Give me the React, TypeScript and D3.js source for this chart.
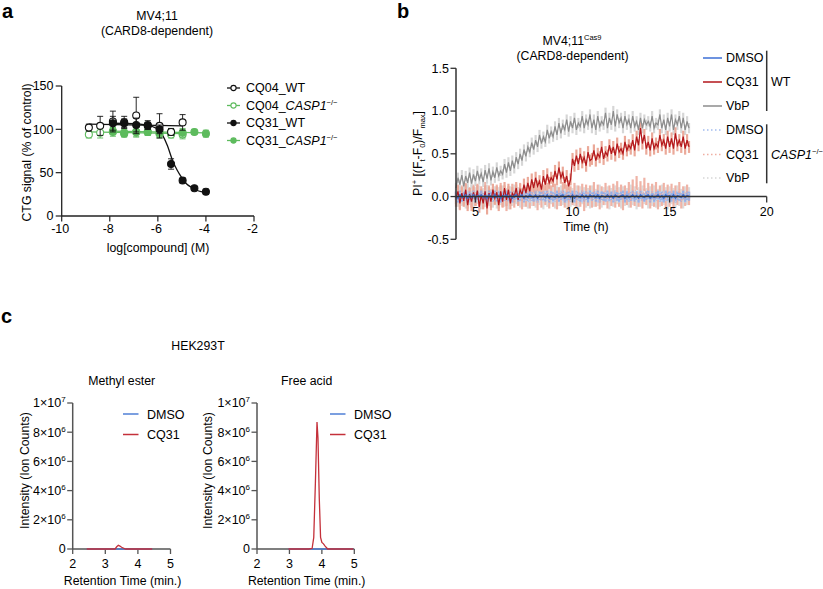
import React from 'react';
import * as d3 from 'd3';

const FONT = "'Liberation Sans', Arial, Helvetica, sans-serif";

// ---------------- Panel a data ----------------
const doseCQ04 = [-8.87, -8.4, -7.87, -7.4, -6.9, -6.42, -5.93, -5.45, -4.97];
const doseCQ31 = [-7.87, -7.4, -6.9, -6.42, -5.93, -5.45, -4.97, -4.48, -4.0];
const cq04WT = [102, 104, 109, 108, 116, 105, 104, 97, 108];
const cq04WTErr = [4, 11, 12, 7, 21, 5, 14, 4, 9];
const cq04KO = [94, 96, 97, 96, 97, 97, 95, 94, 94];
const cq04KOErr = [4, 6, 5, 4, 6, 4, 5, 4, 5];
const cq31WT = [107, 107, 105, 104, 100, 60, 41, 32, 28];
const cq31WTErr = [8, 5, 8, 4, 5, 6, 3, 2, 3];
const cq31KO = [98, 95, 97, 97, 96, 97, 96, 97, 95];
const cq31KOErr = [4, 4, 5, 4, 5, 4, 5, 3, 4];
const fitCQ04WTx = [-8.87, -4.97];
const fitCQ04WTy = [106, 104];
const fitCQ04KOx = [-8.87, -4.97];
const fitCQ04KOy = [97, 95];
const fitCQ31KOx = [-7.87, -4.0];
const fitCQ31KOy = [98, 96];
const fitCQ31WTx = [-7.87, -7.0, -6.5, -6.2, -6.0, -5.8, -5.6, -5.4, -5.2, -5.0, -4.8, -4.6, -4.4, -4.2, -4.0];
const fitCQ31WTy = [107, 106.5, 105, 103, 100, 93, 81, 65, 53, 44, 37, 33, 30, 28, 27];
const aXTicks = [-10, -8, -6, -4, -2];
const aYTicks = [0, 50, 100, 150];

// ---------------- Panel b data ----------------
const TIME_START = 4;
const TIME_STEP = 0.1;
const wtVbP = [
  0.10, 0.22, 0.14, 0.25, 0.12, 0.24, 0.16, 0.28, 0.15, 0.26,
  0.18, 0.30, 0.20, 0.27, 0.17, 0.31, 0.21, 0.33, 0.19, 0.29,
  0.22, 0.34, 0.24, 0.30, 0.26, 0.38, 0.28, 0.40, 0.30, 0.42,
  0.33, 0.46, 0.38, 0.50, 0.42, 0.55, 0.47, 0.58, 0.52, 0.63,
  0.55, 0.66, 0.58, 0.72, 0.62, 0.70, 0.64, 0.78, 0.68, 0.76,
  0.70, 0.82, 0.72, 0.86, 0.74, 0.84, 0.78, 0.90, 0.76, 0.88,
  0.80, 0.92, 0.78, 0.86, 0.82, 0.94, 0.80, 0.90, 0.84, 0.96,
  0.80, 0.90, 0.78, 0.94, 0.82, 0.88, 0.84, 0.98, 0.80, 0.92,
  0.84, 1.00, 0.82, 0.96, 0.86, 0.92, 0.80, 0.94, 0.84, 0.90,
  0.80, 0.94, 0.82, 0.88, 0.78, 0.92, 0.80, 0.90, 0.84, 0.88,
  0.82, 0.94, 0.80, 0.86, 0.84, 0.96, 0.80, 0.90, 0.78, 0.92,
  0.82, 0.96, 0.78, 0.90, 0.84, 0.94, 0.80, 0.92, 0.78, 0.88, 0.80,
];
const wtCQ31 = [
  -0.02, 0.06, -0.08, 0.04, -0.05, 0.08, -0.10, 0.03, -0.06, 0.05,
  -0.04, 0.07, -0.12, 0.02, -0.08, 0.06, -0.14, 0.04, -0.06, 0.08,
  -0.02, 0.05, -0.10, 0.06, -0.06, 0.10, -0.04, 0.08, -0.08, 0.04,
  0.00, 0.10, -0.04, 0.08, 0.02, 0.14, 0.04, 0.16, 0.06, 0.20,
  0.10, 0.22, 0.12, 0.18, 0.08, 0.24, 0.14, 0.26, 0.16, 0.22,
  0.18, 0.30, 0.20, 0.34, 0.22, 0.28, 0.16, 0.24, 0.12, 0.20,
  0.44, 0.36, 0.48, 0.38, 0.50, 0.40, 0.46, 0.36, 0.52, 0.42,
  0.44, 0.54, 0.42, 0.50, 0.46, 0.58, 0.44, 0.52, 0.48, 0.60,
  0.50, 0.58, 0.48, 0.62, 0.52, 0.56, 0.50, 0.64, 0.54, 0.60,
  0.56, 0.66, 0.54, 0.70, 0.60, 0.80, 0.62, 0.72, 0.56, 0.64,
  0.54, 0.68, 0.56, 0.62, 0.58, 0.72, 0.60, 0.66, 0.56, 0.70,
  0.58, 0.68, 0.56, 0.74, 0.60, 0.66, 0.58, 0.70, 0.56, 0.66, 0.58,
];
const wtDMSO = [
  0.01, -0.02, 0.02, -0.01, 0.00, 0.02, -0.02, 0.01, -0.01, 0.02,
  -0.02, 0.01, 0.00, 0.02, -0.01, 0.01, -0.02, 0.02, 0.00, -0.01,
  0.02, -0.01, 0.01, -0.02, 0.01, 0.00, 0.02, -0.01, 0.01, -0.02,
  0.01, 0.02, -0.01, 0.00, 0.02, -0.02, 0.01, -0.01, 0.02, 0.00,
  -0.01, 0.02, -0.02, 0.01, 0.00, 0.01, -0.01, 0.02, -0.02, 0.01,
  0.00, -0.01, 0.02, -0.01, 0.01, 0.02, -0.02, 0.00, 0.01, -0.01,
  0.02, -0.02, 0.01, 0.00, -0.01, 0.02, -0.01, 0.01, -0.02, 0.02,
  0.00, 0.01, -0.01, 0.02, -0.02, 0.01, 0.00, -0.01, 0.02, -0.01,
  0.01, -0.02, 0.02, 0.00, -0.01, 0.01, 0.02, -0.02, 0.01, -0.01,
  0.00, 0.02, -0.01, 0.01, -0.02, 0.02, 0.00, -0.01, 0.01, 0.02,
  -0.02, 0.01, -0.01, 0.00, 0.02, -0.01, 0.01, -0.02, 0.02, 0.00,
  0.01, -0.01, 0.02, -0.02, 0.01, 0.00, -0.01, 0.02, -0.01, 0.01,
  0.00,
];
const koCQ31 = [
  -0.04, 0.06, -0.08, 0.05, -0.02, 0.08, -0.06, 0.03, -0.09, 0.06,
  -0.03, 0.07, -0.07, 0.04, -0.05, 0.09, -0.04, 0.05, -0.08, 0.03,
  -0.02, 0.06, -0.06, 0.08, -0.04, 0.05, -0.09, 0.04, -0.03, 0.07,
  -0.05, 0.06, -0.02, 0.08, -0.07, 0.04, -0.04, 0.09, -0.06, 0.05,
  -0.03, 0.07, -0.08, 0.04, -0.05, 0.06, -0.02, 0.08, -0.06, 0.05,
  -0.04, 0.07, -0.07, 0.03, -0.03, 0.09, -0.05, 0.06, -0.08, 0.04,
  -0.02, 0.08, -0.06, 0.05, -0.04, 0.07, -0.09, 0.06, -0.03, 0.05,
  -0.05, 0.09, -0.04, 0.06, -0.07, 0.04, -0.02, 0.08, -0.06, 0.05,
  -0.03, 0.07, -0.05, 0.10, -0.04, 0.06, -0.08, 0.05, -0.02, 0.09,
  -0.05, 0.12, -0.03, 0.16, -0.04, 0.10, -0.06, 0.14, -0.02, 0.08,
  -0.06, 0.07, -0.04, 0.09, -0.07, 0.05, -0.03, 0.08, -0.05, 0.06,
  -0.04, 0.07, -0.08, 0.05, -0.02, 0.09, -0.06, 0.04, -0.03, 0.06,
  -0.02,
];
const koDMSO = [
  0.02, -0.03, 0.01, -0.02, 0.03, -0.01, 0.02, -0.03, 0.01, 0.02,
  -0.02, 0.03, -0.01, 0.01, -0.03, 0.02, 0.00, -0.02, 0.03, -0.01,
  0.01, -0.02, 0.03, -0.03, 0.02, 0.01, -0.02, 0.02, -0.01, 0.03,
  -0.03, 0.01, 0.02, -0.02, 0.00, 0.03, -0.01, 0.02, -0.03, 0.01,
  0.02, -0.01, -0.03, 0.02, 0.01, -0.02, 0.03, -0.01, 0.00, 0.02,
  -0.03, 0.02, 0.01, -0.02, 0.03, -0.01, 0.02, -0.03, 0.01, 0.00,
  0.02, -0.02, 0.03, -0.01, 0.01, -0.03, 0.02, 0.01, -0.02, 0.03,
  -0.01, 0.00, 0.02, -0.03, 0.01, 0.02, -0.01, 0.03, -0.02, 0.01,
  0.00, 0.03, -0.02, 0.01, -0.03, 0.02, 0.01, -0.01, 0.03, -0.02,
  0.02, -0.01, 0.00, 0.03, -0.03, 0.01, 0.02, -0.02, 0.01, 0.03,
  -0.01, 0.02, -0.03, 0.01, 0.00, 0.02, -0.02, 0.03, -0.01, 0.01,
  -0.03, 0.02, 0.01, -0.02, 0.03, 0.00, -0.01, 0.02, -0.03, 0.01,
  0.02,
];
const koVbP = [
  0.03, -0.05, 0.06, -0.04, 0.02, -0.07, 0.05, -0.03, 0.07, -0.06,
  0.04, -0.02, 0.06, -0.08, 0.03, -0.05, 0.07, -0.04, 0.02, -0.06,
  0.05, -0.07, 0.04, -0.03, 0.06, -0.05, 0.03, -0.08, 0.05, -0.04,
  0.07, -0.02, 0.04, -0.06, 0.03, -0.05, 0.06, -0.07, 0.02, -0.04,
  0.05, -0.06, 0.07, -0.03, 0.04, -0.08, 0.03, -0.05, 0.06, -0.02,
  0.04, -0.07, 0.05, -0.04, 0.06, -0.03, 0.02, -0.06, 0.07, -0.05,
  0.03, -0.04, 0.06, -0.08, 0.05, -0.02, 0.04, -0.06, 0.03, -0.07,
  0.06, -0.05, 0.02, -0.04, 0.07, -0.06, 0.04, -0.03, 0.05, -0.08,
  0.03, -0.05, 0.06, -0.02, 0.04, -0.07, 0.05, -0.04, 0.03, -0.06,
  0.07, -0.03, 0.05, -0.08, 0.04, -0.05, 0.06, -0.02, 0.03, -0.07,
  0.05, -0.04, 0.06, -0.06, 0.02, -0.05, 0.07, -0.03, 0.04, -0.08,
  0.05, -0.02, 0.03, -0.06, 0.06, -0.04, 0.02, -0.07, 0.05, -0.03,
  0.04,
];
const errWtVbP = 0.06;
const errWtCQ31 = 0.07;
const errWtDMSO = 0.05;
const errKoVbP = 0.07;
const errKoCQ31 = 0.08;
const errKoDMSO = 0.04;
const bXTicks = [5, 10, 15, 20];
const bYTicks = [-0.5, 0.0, 0.5, 1.0, 1.5];
const bLegend = ['DMSO', 'CQ31', 'VbP'];

// ---------------- Panel c data ----------------
const cYTicks = [0, 2e6, 4e6, 6e6, 8e6, 1e7];
const cXTicks = [2, 3, 4, 5];
const meDMSOx = [2.43, 4.44];
const meDMSOy = [0, 0];
const meCQ31x = [2.43, 3.3, 3.35, 3.4, 3.45, 3.5, 3.55, 3.62, 4.44];
const meCQ31y = [0, 0, 0.15e6, 0.25e6, 0.2e6, 0.12e6, 0.07e6, 0, 0];
const faDMSOx = [2.97, 4.97];
const faDMSOy = [0, 0];
const faCQ31x = [2.97, 3.6, 3.7, 3.75, 3.8, 3.85, 3.88, 3.92, 3.96, 4.0, 4.05, 4.1, 4.18, 4.97];
const faCQ31y = [0, 0, 0.05e6, 0.8e6, 4.5e6, 8.7e6, 7.6e6, 3.5e6, 0.8e6, 0.45e6, 0.35e6, 0.2e6, 0, 0];

const BLACK = '#111';
const GREEN = '#5dbb5d';
const FS = 12.5;
const FT = 12.3;

function CircleMark({ cx, cy, filled, color, r = 3.5 }: any) {
  return <circle cx={cx} cy={cy} r={r} fill={filled ? color : '#fff'} stroke={color} strokeWidth={1.1} />;
}

export default function App() {
  const xA = d3.scaleLinear().domain([-10, -2]).range([61.7, 254]);
  const yA = d3.scaleLinear().domain([0, 150]).range([216, 86]);
  const xB = d3.scaleLinear().domain([4, 20]).range([456, 766.7]);
  const yB = d3.scaleLinear().domain([-0.5, 1.5]).range([239.3, 68.3]);
  const yC = d3.scaleLinear().domain([0, 1e7]).range([549, 403]);
  const xCL = d3.scaleLinear().domain([2, 5]).range([72.7, 170.5]);
  const xCR = d3.scaleLinear().domain([2, 5]).range([257, 354.3]);

  const lineA = d3.line<[number, number]>().x((d) => xA(d[0])).y((d) => yA(d[1]));
  const fitCurve = d3
    .line<[number, number]>()
    .x((d) => xA(d[0]))
    .y((d) => yA(d[1]))
    .curve(d3.curveMonotoneX);
  const zip = (xs: number[], ys: number[]) => xs.map((x, i) => [x, ys[i]] as [number, number]);

  const times = wtVbP.map((_, i) => TIME_START + i * TIME_STEP);
  const lineB = d3.line<number>().x((_, i) => xB(times[i])).y((d) => yB(d));

  const errBars = (vals: number[], err: number, color: string, w = 2.2, op = 1) =>
    vals.map((v, i) => (
      <line key={i} x1={xB(times[i])} x2={xB(times[i])} y1={yB(v - err)} y2={yB(v + err)} stroke={color} strokeWidth={w} opacity={op} />
    ));

  const aSeries = [
    { x: doseCQ04, y: cq04KO, e: cq04KOErr, color: GREEN, filled: false },
    { x: doseCQ31, y: cq31KO, e: cq31KOErr, color: GREEN, filled: true },
    { x: doseCQ04, y: cq04WT, e: cq04WTErr, color: BLACK, filled: false },
    { x: doseCQ31, y: cq31WT, e: cq31WTErr, color: BLACK, filled: true },
  ];

  const aLegendRows = [
    { label: 'CQ04_', ko: false, color: BLACK, filled: false, y: 88 },
    { label: 'CQ04_', ko: true, color: GREEN, filled: false, y: 105.5 },
    { label: 'CQ31_', ko: false, color: BLACK, filled: true, y: 123 },
    { label: 'CQ31_', ko: true, color: GREEN, filled: true, y: 140.5 },
  ];

  const cLine = (xs: (v: number) => number) =>
    d3.line<[number, number]>().x((d) => xs(d[0])).y((d) => yC(d[1]));

  const expLabel = (v: number) => {
    if (v === 0) return null;
    const exp = Math.floor(Math.log10(v) + 1e-9);
    const mant = Math.round(v / Math.pow(10, exp));
    return { mant, exp };
  };

  const cPanel = (xs: any, axisX: number, title: string, titleX: number, dx: number[], dy: number[], cx: number[], cy: number[], legX: number, yTitleX: number) => (
    <g>
      <text x={titleX} y={385} fontSize={FT} textAnchor="middle">{title}</text>
      <line x1={axisX} x2={axisX} y1={yC(1e7)} y2={yC(0)} stroke="#555" strokeWidth={1.5} />
      <line x1={axisX} x2={xs(5)} y1={yC(0)} y2={yC(0)} stroke="#555" strokeWidth={1.5} />
      {cYTicks.map((t) => {
        const lab = expLabel(t);
        return (
          <g key={t}>
            <line x1={axisX - 5.5} x2={axisX} y1={yC(t)} y2={yC(t)} stroke="#555" strokeWidth={1.3} />
            <text x={axisX - 7} y={yC(t) + 4.3} fontSize={FS} textAnchor="end">
              {lab ? (
                <>
                  {lab.mant}×10<tspan fontSize={8} dy={-5}>{lab.exp}</tspan>
                </>
              ) : (
                '0'
              )}
            </text>
          </g>
        );
      })}
      {cXTicks.map((t) => (
        <g key={t}>
          <line x1={xs(t)} x2={xs(t)} y1={yC(0)} y2={yC(0) + 5} stroke="#555" strokeWidth={1.3} />
          <text x={xs(t)} y={568} fontSize={FS} textAnchor="middle">{t}</text>
        </g>
      ))}
      <text x={(xs(2) + xs(5)) / 2 + 1} y={584.5} fontSize={FT} textAnchor="middle">Retention Time (min.)</text>
      <text transform={`translate(${yTitleX},470.5) rotate(-90)`} fontSize={FT} textAnchor="middle">Intensity (Ion Counts)</text>
      <path d={cLine(xs)(zip(dx, dy)) || ''} fill="none" stroke="#4f7fd6" strokeWidth={1.3} />
      <path d={cLine(xs)(zip(cx, cy)) || ''} fill="none" stroke="#c4303a" strokeWidth={1.3} />
      <line x1={legX} x2={legX + 15.5} y1={414} y2={414} stroke="#4f7fd6" strokeWidth={1.5} />
      <text x={legX + 24} y={418.5} fontSize={FS}>DMSO</text>
      <line x1={legX} x2={legX + 15.5} y1={434.5} y2={434.5} stroke="#c4303a" strokeWidth={1.5} />
      <text x={legX + 24} y={439} fontSize={FS}>CQ31</text>
    </g>
  );

  const bLegendY = [58, 82, 106, 130, 154.5, 178];
  const bWtColors = ['#3d6fd6', '#b3161b', '#8c8c8c'];
  const bKoColors = ['#a3bcee', '#f0aea2', '#d6d6d6'];

  return (
    <svg
      width={823}
      height={589}
      style={{ position: 'absolute', left: 0, top: 0, background: '#fff' }}
      fontFamily={FONT}
      fill="#000"
    >
      <rect width={823} height={589} fill="#fff" />

      {/* ================= Panel a ================= */}
      <text x={2} y={18} fontSize={20} fontWeight="bold">a</text>
      <text x={157} y={20} fontSize={FT} textAnchor="middle">MV4;11</text>
      <text x={157} y={35} fontSize={FT} textAnchor="middle">(CARD8-dependent)</text>

      <path d={lineA(zip(fitCQ04KOx, fitCQ04KOy)) || ''} fill="none" stroke={GREEN} strokeWidth={1.3} />
      <path d={lineA(zip(fitCQ31KOx, fitCQ31KOy)) || ''} fill="none" stroke={GREEN} strokeWidth={1.3} />
      <path d={lineA(zip(fitCQ04WTx, fitCQ04WTy)) || ''} fill="none" stroke={BLACK} strokeWidth={1.1} />
      <path d={fitCurve(zip(fitCQ31WTx, fitCQ31WTy)) || ''} fill="none" stroke={BLACK} strokeWidth={1.3} />

      {aSeries.map((s, si) => (
        <g key={si}>
          {s.x.map((x, i) => {
            const cx = xA(x);
            const top = yA(s.y[i] + s.e[i]);
            const bot = yA(s.y[i] - s.e[i]);
            return (
              <g key={i}>
                <line x1={cx} x2={cx} y1={top} y2={bot} stroke={s.color} strokeWidth={0.9} />
                <line x1={cx - 3} x2={cx + 3} y1={top} y2={top} stroke={s.color} strokeWidth={0.9} />
                <line x1={cx - 3} x2={cx + 3} y1={bot} y2={bot} stroke={s.color} strokeWidth={0.9} />
              </g>
            );
          })}
          {s.x.map((x, i) => (
            <CircleMark key={'c' + i} cx={xA(x)} cy={yA(s.y[i])} filled={s.filled} color={s.color} />
          ))}
        </g>
      ))}

      <line x1={xA(-10)} x2={xA(-10)} y1={yA(150)} y2={yA(0)} stroke="#222" strokeWidth={1.3} />
      <line x1={xA(-10)} x2={xA(-2)} y1={yA(0)} y2={yA(0)} stroke="#222" strokeWidth={1.3} />
      {aYTicks.map((t) => (
        <g key={t}>
          <line x1={xA(-10) - 6} x2={xA(-10)} y1={yA(t)} y2={yA(t)} stroke="#222" strokeWidth={1.2} />
          <text x={53.5} y={yA(t) + 4.4} fontSize={FS} textAnchor="end">{t}</text>
        </g>
      ))}
      {aXTicks.map((t) => (
        <g key={t}>
          <line x1={xA(t)} x2={xA(t)} y1={yA(0)} y2={yA(0) + 5.5} stroke="#222" strokeWidth={1.2} />
          <text x={xA(t) - 1.5} y={233} fontSize={FS} textAnchor="middle">{t}</text>
        </g>
      ))}
      <text x={158} y={251.5} fontSize={FT} textAnchor="middle">log[compound] (M)</text>
      <text transform="translate(30.5,152.5) rotate(-90)" fontSize={FT} textAnchor="middle">CTG signal (% of control)</text>

      {aLegendRows.map((r, i) => (
        <g key={i}>
          <line x1={227} x2={240} y1={r.y} y2={r.y} stroke={r.color} strokeWidth={1.3} />
          <CircleMark cx={233.5} cy={r.y} filled={r.filled} color={r.color} r={2.6} />
          <text x={246} y={r.y + 4.4} fontSize={FS}>
            {r.label}
            {r.ko ? (
              <>
                <tspan fontStyle="italic">CASP1</tspan>
                <tspan fontSize={7.5} dy={-5}>−/−</tspan>
              </>
            ) : (
              'WT'
            )}
          </text>
        </g>
      ))}

      {/* ================= Panel b ================= */}
      <text x={397} y={18} fontSize={20} fontWeight="bold">b</text>
      <text x={572} y={45} fontSize={FT} textAnchor="middle">
        MV4;11<tspan fontSize={7.5} dy={-5}>Cas9</tspan>
      </text>
      <text x={572.5} y={59.5} fontSize={FT} textAnchor="middle">(CARD8-dependent)</text>

      {errBars(koVbP, errKoVbP, '#dcdcdc')}
      {errBars(koCQ31, errKoCQ31, '#efb3a6')}
      {errBars(koDMSO, errKoDMSO, '#b9ccf1')}
      {errBars(wtVbP, errWtVbP, '#d6d6d6')}
      {errBars(wtCQ31, errWtCQ31, '#eba999')}
      {errBars(wtDMSO, errWtDMSO, '#86a8ea', 2.2, 0.75)}

      <path d={lineB(koVbP) || ''} fill="none" stroke={bKoColors[2]} strokeWidth={1} strokeDasharray="1.5,2" />
      <path d={lineB(koCQ31) || ''} fill="none" stroke={bKoColors[1]} strokeWidth={1} strokeDasharray="1.5,2" />
      <path d={lineB(koDMSO) || ''} fill="none" stroke={bKoColors[0]} strokeWidth={1} strokeDasharray="1.5,2" />
      <path d={lineB(wtVbP) || ''} fill="none" stroke={bWtColors[2]} strokeWidth={1.2} />
      <path d={lineB(wtCQ31) || ''} fill="none" stroke={bWtColors[1]} strokeWidth={1.2} />
      <path d={lineB(wtDMSO) || ''} fill="none" stroke={bWtColors[0]} strokeWidth={1.5} />

      <line x1={xB(4)} x2={xB(4)} y1={yB(1.5)} y2={yB(-0.5)} stroke="#333" strokeWidth={1.5} />
      <line x1={xB(4)} x2={xB(20)} y1={yB(0)} y2={yB(0)} stroke="#333" strokeWidth={1.5} />
      {bYTicks.map((t) => (
        <g key={t}>
          <line x1={xB(4) - 5.5} x2={xB(4)} y1={yB(t)} y2={yB(t)} stroke="#333" strokeWidth={1.3} />
          <text x={449} y={yB(t) + 4.4} fontSize={FS} textAnchor="end">{t.toFixed(1)}</text>
        </g>
      ))}
      {bXTicks.map((t) => (
        <g key={t}>
          <line x1={xB(t)} x2={xB(t)} y1={yB(0)} y2={yB(0) + 6} stroke="#333" strokeWidth={1.3} />
          <text x={xB(t)} y={216} fontSize={FS} textAnchor="middle">{t}</text>
        </g>
      ))}
      <text x={586} y={231} fontSize={FT} textAnchor="middle">Time (h)</text>
      <text transform="translate(421.5,153.5) rotate(-90)" fontSize={FT} textAnchor="middle">
        PI<tspan fontSize={7.5} dy={-5}>+</tspan>
        <tspan dy={5}> [(F</tspan>
        <tspan fontSize={7.5} dy={3}>t</tspan>
        <tspan dy={-3}>-F</tspan>
        <tspan fontSize={7.5} dy={3}>0</tspan>
        <tspan dy={-3}>)/F</tspan>
        <tspan fontSize={7.5} dy={3}>max</tspan>
        <tspan dy={-3}>]</tspan>
      </text>

      {bLegend.map((lab, i) => (
        <g key={'wt' + i}>
          <line x1={703} x2={722} y1={bLegendY[i]} y2={bLegendY[i]} stroke={bWtColors[i]} strokeWidth={1.5} />
          <text x={726} y={bLegendY[i] + 4.4} fontSize={FS}>{lab}</text>
        </g>
      ))}
      {bLegend.map((lab, i) => (
        <g key={'ko' + i}>
          <line x1={703} x2={722} y1={bLegendY[i + 3]} y2={bLegendY[i + 3]} stroke={bKoColors[i]} strokeWidth={1.3} strokeDasharray="1.5,2.5" />
          <text x={726} y={bLegendY[i + 3] + 4.4} fontSize={FS}>{lab}</text>
        </g>
      ))}
      <line x1={766.7} x2={766.7} y1={50.7} y2={111} stroke="#333" strokeWidth={1.5} />
      <line x1={766.7} x2={766.7} y1={124.3} y2={183.3} stroke="#333" strokeWidth={1.5} />
      <text x={771} y={86.2} fontSize={FS}>WT</text>
      <text x={771} y={158.9} fontSize={FS}>
        <tspan fontStyle="italic">CASP1</tspan>
        <tspan fontSize={7.5} dy={-5}>−/−</tspan>
      </text>

      {/* ================= Panel c ================= */}
      <text x={1} y={323} fontSize={20} fontWeight="bold">c</text>
      <text x={198} y={349.5} fontSize={FT} textAnchor="middle">HEK293T</text>
      {cPanel(xCL, 72.7, 'Methyl ester', 121.7, meDMSOx, meDMSOy, meCQ31x, meCQ31y, 123, 29)}
      {cPanel(xCR, 257, 'Free acid', 306.7, faDMSOx, faDMSOy, faCQ31x, faCQ31y, 330, 211.5)}
    </svg>
  );
}
